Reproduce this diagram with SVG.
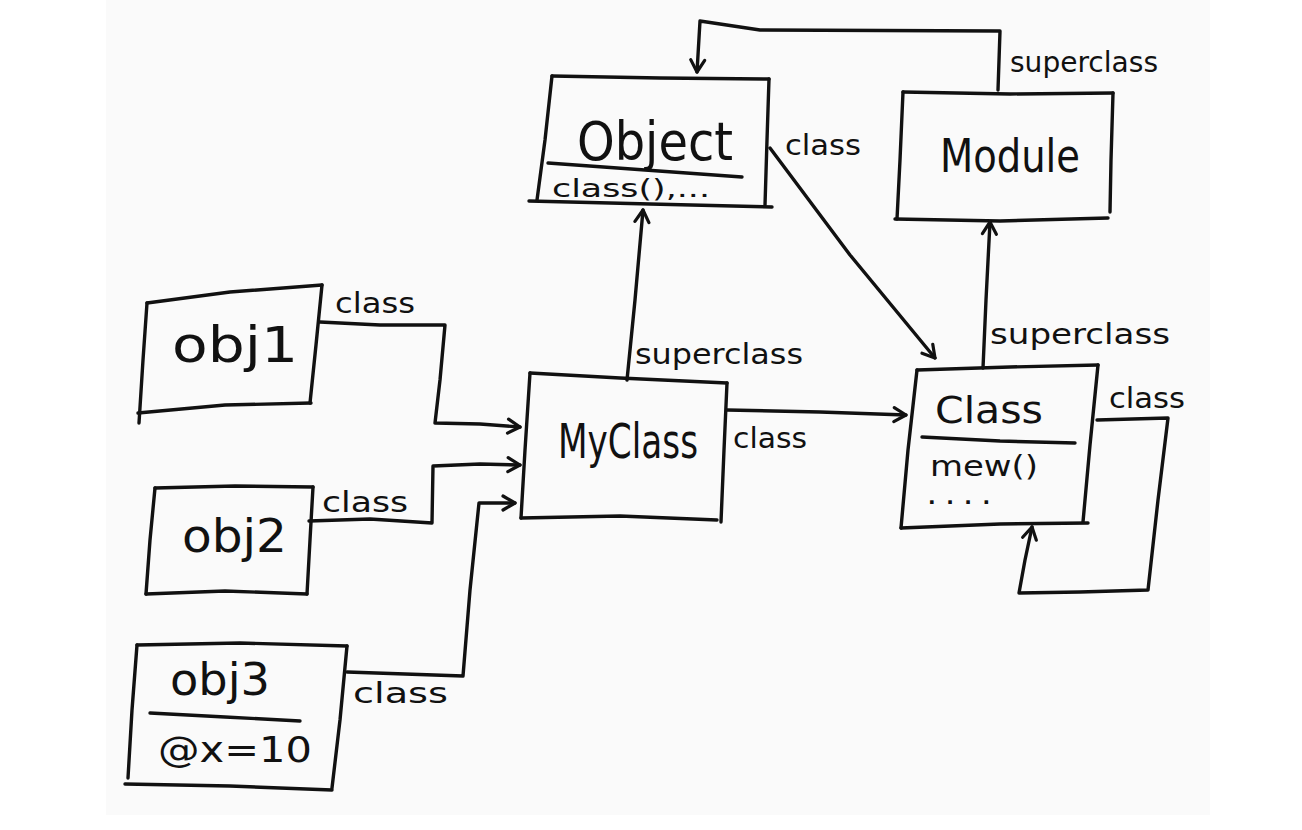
<svg xmlns="http://www.w3.org/2000/svg" width="1302" height="830" viewBox="0 0 1302 830">
  <defs>
    <style>
      .ink { fill: none; stroke: #111; stroke-width: 3.4; stroke-linecap: round; stroke-linejoin: round; }
      .title { font-family: "DejaVu Sans", "Liberation Sans", sans-serif; fill: #111; }
      .lbl { font-family: "DejaVu Sans", "Liberation Sans", sans-serif; font-size: 28px; fill: #111; }
    </style>
    <marker id="arrow" viewBox="0 0 18 18" refX="15" refY="9" markerWidth="18" markerHeight="18" markerUnits="userSpaceOnUse" orient="auto">
      <path d="M3,2 L15,9 L3,16" fill="none" stroke="#111" stroke-width="3.2" stroke-linecap="round" stroke-linejoin="round"/>
    </marker>
  </defs>

  <rect x="0" y="0" width="1302" height="830" fill="#ffffff"/>
  <rect x="106" y="0" width="1104" height="815" fill="#fafafa"/>

  <!-- Nodes -->
  <g id="object">
    <path class="ink" d="M552,76 L660,78 L769,79"/>
    <path class="ink" d="M769,79 L767,140 L765,205"/>
    <path class="ink" d="M552,76 L545,140 L537,200"/>
    <path class="ink" d="M529,201 L650,204 L772,207"/>
    <path class="ink" d="M548,163 L645,170 L742,177"/>
    <text class="title" font-size="48" transform="translate(577,160) scale(1,1.12)" textLength="156" lengthAdjust="spacingAndGlyphs">Object</text>
    <text class="title" x="552" y="197" font-size="24" textLength="158" lengthAdjust="spacingAndGlyphs">class(),...</text>
  </g>

  <g id="module">
    <path class="ink" d="M903,92 L1010,94 L1113,93"/>
    <path class="ink" d="M1113,93 L1111,160 L1110,212"/>
    <path class="ink" d="M903,92 L900,160 L897,219"/>
    <path class="ink" d="M895,219 L1000,221 L1108,218"/>
    <text class="title" font-size="40" transform="translate(940,172) scale(1,1.15)" textLength="140" lengthAdjust="spacingAndGlyphs">Module</text>
  </g>

  <g id="class">
    <path class="ink" d="M917,370 L1010,367 L1098,365"/>
    <path class="ink" d="M1098,365 L1090,445 L1083,522"/>
    <path class="ink" d="M917,370 L908,450 L901,528"/>
    <path class="ink" d="M901,528 L1000,524 L1088,523"/>
    <path class="ink" d="M922,437 L1000,441 L1075,443"/>
    <text class="title" x="935" y="423" font-size="38" textLength="108" lengthAdjust="spacingAndGlyphs">Class</text>
    <text class="title" x="930" y="476" font-size="28" textLength="108" lengthAdjust="spacingAndGlyphs">mew()</text>
    <text class="title" x="928" y="504" font-size="20" font-weight="bold" textLength="62" lengthAdjust="spacing">....</text>
  </g>

  <g id="myclass">
    <path class="ink" d="M530,373 L620,378 L727,383"/>
    <path class="ink" d="M727,383 L724,450 L721,522"/>
    <path class="ink" d="M530,373 L525,450 L521,518"/>
    <path class="ink" d="M521,518 L620,516 L717,520"/>
    <text class="title" font-size="34" transform="translate(558,458) scale(1,1.4)" textLength="140" lengthAdjust="spacingAndGlyphs">MyClass</text>
  </g>

  <g id="obj1">
    <path class="ink" d="M147,303 L230,292 L322,285"/>
    <path class="ink" d="M322,285 L316,345 L310,403"/>
    <path class="ink" d="M138,413 L225,405 L311,403"/>
    <path class="ink" d="M147,303 L143,360 L139,423"/>
    <text class="title" x="172" y="362" font-size="50" textLength="126" lengthAdjust="spacingAndGlyphs">obj1</text>
  </g>

  <g id="obj2">
    <path class="ink" d="M155,488 L235,486 L313,487"/>
    <path class="ink" d="M313,487 L310,540 L307,594"/>
    <path class="ink" d="M146,594 L225,591 L307,594"/>
    <path class="ink" d="M155,488 L150,540 L146,594"/>
    <text class="title" x="182" y="552" font-size="46" textLength="105" lengthAdjust="spacingAndGlyphs">obj2</text>
  </g>

  <g id="obj3">
    <path class="ink" d="M137,645 L240,643 L347,646"/>
    <path class="ink" d="M347,646 L340,720 L332,788"/>
    <path class="ink" d="M125,784 L230,786 L332,790"/>
    <path class="ink" d="M137,645 L132,710 L128,778"/>
    <path class="ink" d="M150,713 L225,717 L300,721"/>
    <text class="title" x="170" y="695" font-size="44" textLength="100" lengthAdjust="spacingAndGlyphs">obj3</text>
    <text class="title" x="158" y="762" font-size="36" textLength="154" lengthAdjust="spacingAndGlyphs">@x=10</text>
  </g>

  <!-- Connectors -->
  <g id="connectors">
    <path class="ink" marker-end="url(#arrow)" d="M998,90 L1000,31 L760,30 L700,21 L697,72"/>
    <path class="ink" marker-end="url(#arrow)" d="M770,148 L850,255 L935,358"/>
    <path class="ink" marker-end="url(#arrow)" d="M983,368 L986,300 L990,222"/>
    <path class="ink" marker-end="url(#arrow)" d="M627,380 L635,300 L643,210"/>
    <path class="ink" marker-end="url(#arrow)" d="M727,410 L820,412 L906,415"/>
    <path class="ink" marker-end="url(#arrow)" d="M1097,420 L1168,418 L1158,500 L1148,590 L1080,592 L1019,593 L1025,560 L1032,527"/>
    <path class="ink" marker-end="url(#arrow)" d="M320,322 L380,325 L445,325 L440,380 L435,423 L480,424 L520,427"/>
    <path class="ink" marker-end="url(#arrow)" d="M309,521 L370,519 L432,523 L433,466 L480,464 L520,465"/>
    <path class="ink" marker-end="url(#arrow)" d="M347,672 L405,674 L463,676 L470,590 L479,503 L515,503"/>

    <text class="lbl" x="1010" y="72" textLength="148" lengthAdjust="spacingAndGlyphs">superclass</text>
    <text class="lbl" x="785" y="155" textLength="76" lengthAdjust="spacingAndGlyphs">class</text>
    <text class="lbl" x="990" y="344" textLength="180" lengthAdjust="spacingAndGlyphs">superclass</text>
    <text class="lbl" x="635" y="364" textLength="168" lengthAdjust="spacingAndGlyphs">superclass</text>
    <text class="lbl" x="733" y="448" textLength="74" lengthAdjust="spacingAndGlyphs">class</text>
    <text class="lbl" x="1109" y="408" textLength="76" lengthAdjust="spacingAndGlyphs">class</text>
    <text class="lbl" x="335" y="313" textLength="80" lengthAdjust="spacingAndGlyphs">class</text>
    <text class="lbl" x="322" y="512" textLength="86" lengthAdjust="spacingAndGlyphs">class</text>
    <text class="lbl" x="353" y="703" textLength="95" lengthAdjust="spacingAndGlyphs">class</text>
  </g>
</svg>
